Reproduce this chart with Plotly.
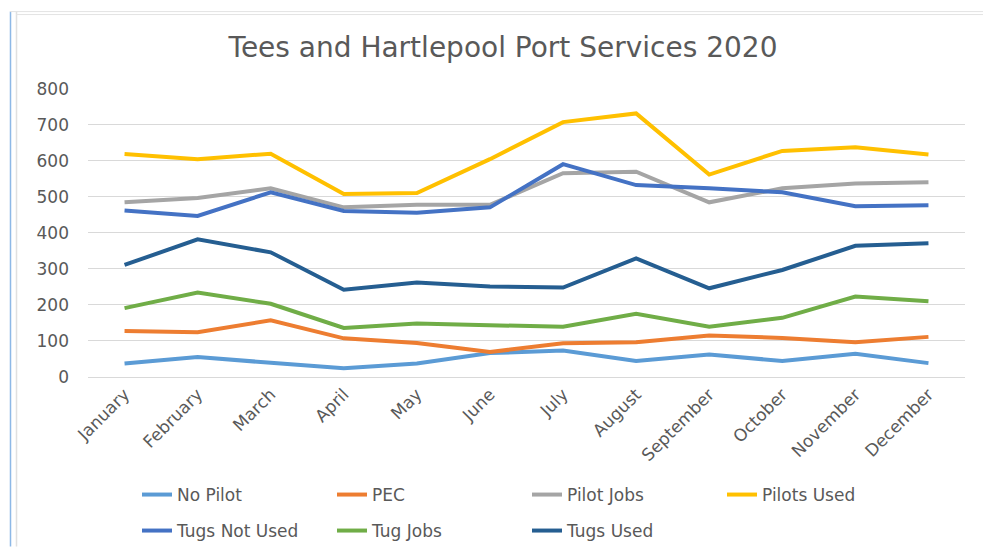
import plotly.graph_objects as go

months = ["January", "February", "March", "April", "May", "June", "July",
          "August", "September", "October", "November", "December"]

no_pilot = [37, 55, 39, 24, 37, 66, 73, 44, 62, 44, 64, 38]
pec = [127, 124, 157, 107, 94, 69, 93, 96, 115, 108, 96, 111]
pilot_jobs = [485, 497, 524, 471, 478, 478, 566, 570, 485, 524, 537, 541]
pilots_used = [619, 605, 620, 508, 511, 605, 708, 732, 562, 628, 638, 618]
tugs_not_used = [462, 447, 513, 461, 456, 471, 591, 533, 524, 513, 474, 477]
tug_jobs = [191, 234, 203, 136, 148, 143, 139, 175, 139, 164, 223, 210]
tugs_used = [311, 382, 346, 242, 262, 251, 248, 329, 246, 297, 364, 371]

series = [
    ("No Pilot", no_pilot, "#5B9BD5", "legend"),
    ("PEC", pec, "#ED7D31", "legend"),
    ("Pilot Jobs", pilot_jobs, "#A5A5A5", "legend"),
    ("Pilots Used", pilots_used, "#FFC000", "legend"),
    ("Tugs Not Used", tugs_not_used, "#4472C4", "legend2"),
    ("Tug Jobs", tug_jobs, "#70AD47", "legend2"),
    ("Tugs Used", tugs_used, "#255E91", "legend2"),
]

FONT = "DejaVu Sans"
TXT = "#595959"

fig = go.Figure()
for name, vals, col, lg in series:
    fig.add_trace(go.Scatter(x=months, y=vals, name=name, mode="lines", legend=lg,
                             line=dict(color=col, width=4)))

W, H = 983, 550
ml, mr, mt, mb = 88, 18, 89, 171
pw, ph = W - ml - mr, H - mt - mb

def px(p):
    return (p - ml) / pw

def py(p):
    return (H - mb - p) / ph

shapes = []
# decorative screenshot frame
shapes.append(dict(type="line", xref="paper", yref="paper", x0=px(10.5), x1=px(10.5),
                   y0=py(11), y1=py(550), line=dict(color="#8DB8E6", width=1.5)))
shapes.append(dict(type="line", xref="paper", yref="paper", x0=px(16.5), x1=px(16.5),
                   y0=py(11), y1=py(550), line=dict(color="#E0E0E0", width=1.5)))
shapes.append(dict(type="line", xref="paper", yref="paper", x0=px(10), x1=px(983),
                   y0=py(11), y1=py(11), line=dict(color="#E3E3E3", width=1)))
shapes.append(dict(type="line", xref="paper", yref="paper", x0=px(16), x1=px(983),
                   y0=py(14), y1=py(14), line=dict(color="#E3E3E3", width=1)))

legend_common = dict(orientation="h", xref="container", yref="container",
                     x=137 / W, xanchor="left", yanchor="top",
                     entrywidth=150, entrywidthmode="pixels",
                     font=dict(size=17, color=TXT, family=FONT),
                     bgcolor="rgba(0,0,0,0)")

fig.update_layout(
    width=W, height=H,
    margin=dict(l=ml, r=mr, t=mt, b=mb),
    paper_bgcolor="white", plot_bgcolor="white",
    font=dict(family=FONT, color=TXT, size=17),
    title=dict(text="Tees and Hartlepool Port Services 2020", x=503 / W, xanchor="center",
               y=1 - 47 / H, yanchor="middle", font=dict(size=28, color=TXT, family=FONT)),
    xaxis=dict(showgrid=False, tickangle=-45, tickfont=dict(size=17, color=TXT),
               showline=True, linecolor="#D9D9D9", linewidth=1, ticks="",
               range=[-0.5, 11.5]),
    yaxis=dict(range=[0, 800], dtick=100, showgrid=True, gridcolor="#D9D9D9", gridwidth=1,
               zeroline=False, showline=False, tickfont=dict(size=17, color=TXT),
               ticklabelstandoff=18),
    legend=dict(legend_common, y=1 - 477 / H),
    legend2=dict(legend_common, y=1 - 513 / H),
    shapes=shapes,
)

fig.write_html("out.html")
